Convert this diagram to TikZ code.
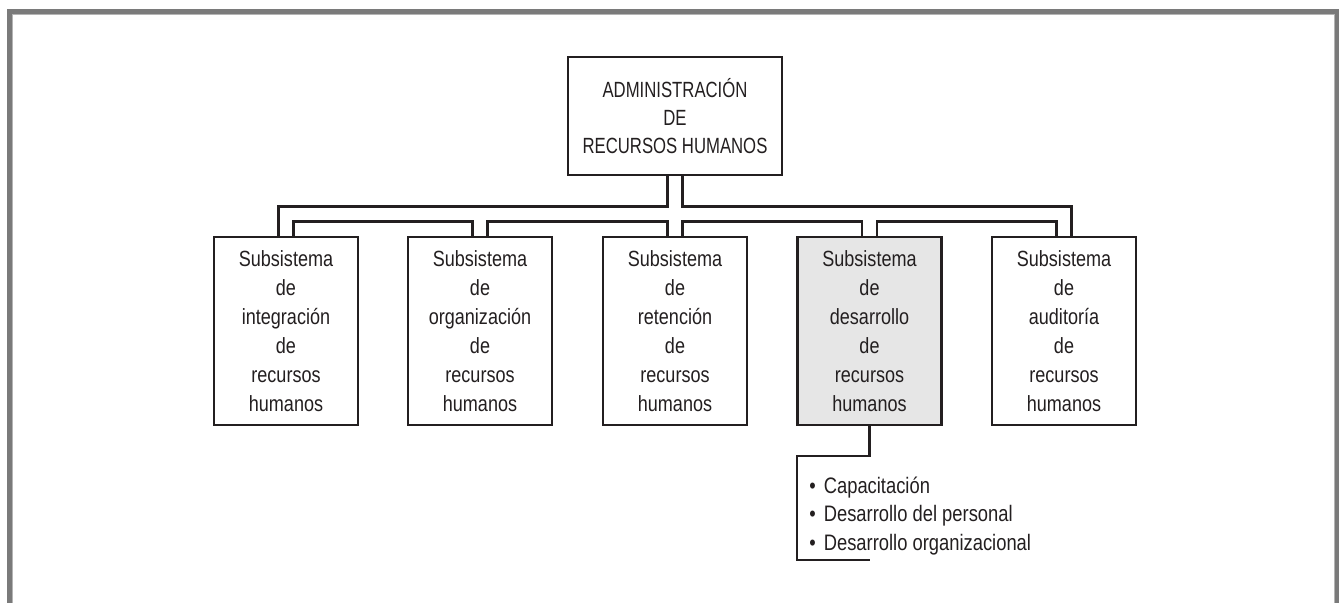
\documentclass[tikz,border=0pt]{standalone}
\usepackage{fontspec}
\setmainfont{Liberation Sans}
\newfontfamily\boxfont[FakeStretch=0.82]{Liberation Sans}
\newfontfamily\topfont[FakeStretch=0.76]{Liberation Sans}
\usetikzlibrary{backgrounds}
\definecolor{ink}{HTML}{231F20}
\definecolor{framegray}{HTML}{7A7A7A}
\definecolor{framelight}{HTML}{B4B4B4}
\definecolor{shade}{HTML}{E6E6E6}
\begin{document}
\begin{tikzpicture}[x=0.5pt,y=-0.5pt,
  sub/.style={draw=ink, line width=1.25pt, fill=white, minimum width=72pt,
    minimum height=94pt, inner sep=0pt, align=center, text=ink,
    font=\boxfont\fontsize{11}{14.45}\selectfont},
  topbox/.style={draw=ink, line width=1.25pt, fill=white, minimum width=107pt,
    minimum height=59pt, inner sep=0pt, align=center, text=ink,
    font=\topfont\fontsize{11}{14.15}\selectfont},
  dbl/.style={draw=ink, line width=1.25pt, double=white, double distance=6.25pt,
    line join=miter},
  bracket/.style={draw=ink, line width=1.25pt, line join=miter},
  listtext/.style={anchor=west, align=left, inner sep=0pt, text=ink,
    font=\boxfont\fontsize{11.2}{14.35}\selectfont}
]
\useasboundingbox (0,0) rectangle (1340,603);
% frame
\draw[framegray, line width=2.5pt] (9.5,603) -- (9.5,11.5) -- (1336.3,11.5) -- (1336.3,603);
\draw[framelight, line width=0.6pt] (12.6,603) -- (12.6,14.6) -- (1334.2,14.6) -- (1334.2,603);

\node[topbox] (top) at (675,116) {ADMINISTRACIÓN\\DE\\RECURSOS HUMANOS};
\node[sub] (b1) at (286,331) {Subsistema\\de\\integración\\de\\recursos\\humanos};
\node[sub] (b2) at (480,331) {Subsistema\\de\\organización\\de\\recursos\\humanos};
\node[sub] (b3) at (675,331) {Subsistema\\de\\retención\\de\\recursos\\humanos};
\node[sub, fill=shade] (b4) at (869.5,331) {Subsistema\\de\\desarrollo\\de\\recursos\\humanos};
\node[sub] (b5) at (1064,331) {Subsistema\\de\\auditoría\\de\\recursos\\humanos};

\coordinate (bus) at (675,214);
\coordinate (lt) at (797,456);
\coordinate (le) at (869.5,560);

\begin{pgfonlayer}{background}
\draw[dbl] (top.south) -- (b3.north)
  (b1.north) -- (b1.north |- bus) -- (b5.north |- bus) -- (b5.north)
  (b2.north) -- (b2.north |- bus)
  (b4.north) -- (b4.north |- bus);
\end{pgfonlayer}

\draw[bracket] (b4.south) |- (lt) -- (lt |- le) -- (le);

\node[listtext] (list) at (809,516) {•\hspace{4pt}Capacitación\\•\hspace{4pt}Desarrollo del personal\\•\hspace{4pt}Desarrollo organizacional};
\end{tikzpicture}
\end{document}
